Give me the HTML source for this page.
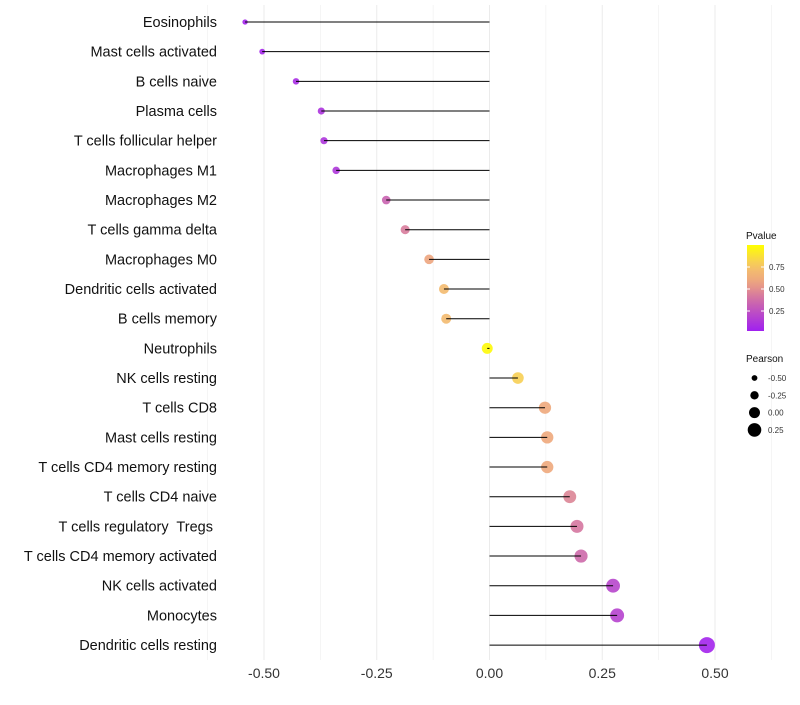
<!DOCTYPE html>
<html><head><meta charset="utf-8"><style>
body{margin:0;background:#fff;font-family:"Liberation Sans",sans-serif}
</style></head><body>
<svg id="c" width="800" height="700" xmlns="http://www.w3.org/2000/svg"></svg>
<script>
const categories=["Eosinophils","Mast cells activated","B cells naive","Plasma cells","T cells follicular helper","Macrophages M1","Macrophages M2","T cells gamma delta","Macrophages M0","Dendritic cells activated","B cells memory","Neutrophils","NK cells resting","T cells CD8","Mast cells resting","T cells CD4 memory resting","T cells CD4 naive","T cells regulatory  Tregs ","T cells CD4 memory activated","NK cells activated","Monocytes","Dendritic cells resting"];
const pearson=[-0.542,-0.504,-0.429,-0.373,-0.367,-0.340,-0.229,-0.187,-0.134,-0.101,-0.096,-0.005,0.063,0.123,0.128,0.128,0.178,0.194,0.203,0.274,0.283,0.482];
const pvalue=[0.02,0.03,0.06,0.09,0.10,0.11,0.32,0.42,0.58,0.70,0.70,0.98,0.80,0.60,0.60,0.60,0.45,0.40,0.35,0.18,0.17,0.02];
const xTicks=[-0.5,-0.25,0,0.25,0.5];
const xTickLabels=["-0.50","-0.25","0.00","0.25","0.50"];
const pTicks=[0.25,0.5,0.75];
const sizeLegend=[-0.5,-0.25,0,0.25];

const svg=document.getElementById('c');const NS="http://www.w3.org/2000/svg";
function mk(t,a,p){const e=document.createElementNS(NS,t);for(const k in a)e.setAttribute(k,a[k]);(p||svg).appendChild(e);return e;}
const x=v=>489.5+v*451;
const y=i=>22+i*29.67;
const r=v=>Math.max(1.6,5.5+v*5.2);
function col(p){const stops=[[0,[160,32,240]],[0.35,[205,105,170]],[0.55,[235,160,130]],[0.75,[245,195,105]],[1,[255,255,0]]];
for(let i=1;i<stops.length;i++){if(p<=stops[i][0]){const a=stops[i-1],b=stops[i];const t=(p-a[0])/(b[0]-a[0]);const c=a[1].map((v,j)=>Math.round(v+(b[1][j]-v)*t));return `rgb(${c})`;}}return 'rgb(255,255,0)';}
for(let k=-0.625;k<=0.625;k+=0.125){const g=mk('line',{x1:x(k),x2:x(k),y1:5,y2:660,stroke:'#ebebeb','stroke-width':Math.abs(k*8%2)<0.01?1:0.5});
}
xTicks.forEach((t,i)=>{const e=mk('text',{x:x(t),y:678,'text-anchor':'middle','font-size':14,fill:'#333'});e.textContent=xTickLabels[i];
});
categories.forEach((c,i)=>{
const l=mk('text',{x:217,y:y(i)+5,'text-anchor':'end','font-size':14.5,fill:'#111',style:'white-space:pre'});l.textContent=c;

const d=mk('circle',{cx:x(pearson[i]),cy:y(i),r:r(pearson[i]),fill:col(pvalue[i]),'fill-opacity':0.9});

const s=mk('line',{x1:x(0),x2:x(pearson[i]),y1:y(i),y2:y(i),stroke:'#000','stroke-width':1});

});
const defs=mk('defs',{});const lg=mk('linearGradient',{id:'g',x1:0,y1:1,x2:0,y2:0},defs);
for(let k=0;k<=10;k++)mk('stop',{offset:k/10,'stop-color':col(k/10)},lg);
const t1=mk('text',{x:746,y:239,'font-size':10,fill:'#111'});t1.textContent='Pvalue';

const bar=mk('rect',{x:747,y:245,width:17,height:86,fill:'url(#g)'});

const py=p=>333-p*88;
pTicks.forEach(p=>{mk('line',{x1:747,x2:750,y1:py(p),y2:py(p),stroke:'#fff'});mk('line',{x1:761,x2:764,y1:py(p),y2:py(p),stroke:'#fff'});
const e=mk('text',{x:769,y:py(p)+3,'font-size':8,fill:'#333'});e.textContent=p.toFixed(2);
});
const t2=mk('text',{x:746,y:362,'font-size':10,fill:'#111'});t2.textContent='Pearson';

sizeLegend.forEach((v,i)=>{const cy=378+i*17.3;const c=mk('circle',{cx:754.5,cy:cy,r:Math.max(2.8,r(v)),fill:'#000'});

const e=mk('text',{x:768,y:cy+3,'font-size':8,fill:'#333'});e.textContent=v.toFixed(2);
});
</script>
</body></html>
